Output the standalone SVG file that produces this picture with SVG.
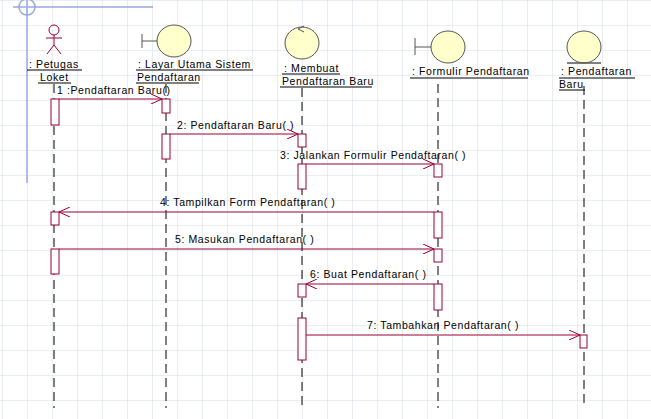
<svg xmlns="http://www.w3.org/2000/svg" width="651" height="419" viewBox="0 0 651 419">
<style>
text{font-family:"Liberation Sans",Arial,sans-serif;font-size:10.5px;fill:#000;letter-spacing:0.6px}
.ll{stroke:#000;stroke-width:1;stroke-dasharray:9,5}
.act{fill:#fff;stroke:#990033;stroke-width:1}
.msg{stroke:#990033;stroke-width:1;fill:none}
.ul{stroke:#000;stroke-width:1}
.ball{fill:#ffffcc;stroke:#555;stroke-width:1}
</style>
<defs>
<pattern id="g" width="25" height="25" patternUnits="userSpaceOnUse" x="2" y="0">
<path d="M0 0H25M0 0V25" stroke="#d6dde8" stroke-width="1" fill="none"/>
</pattern>
<marker id="a" markerWidth="12" markerHeight="10" refX="11" refY="5" orient="auto" markerUnits="userSpaceOnUse">
<path d="M0 0L11 5L0 10" fill="none" stroke="#990033" stroke-width="1"/>
</marker>
</defs>
<rect width="651" height="419" fill="#fff"/>
<rect width="651" height="419" fill="url(#g)"/>
<g stroke="#9aa8e0" stroke-width="1.5" fill="none">
<line x1="13" y1="7" x2="153" y2="7"/>
<line x1="27" y1="0" x2="27" y2="183"/>
<circle cx="27" cy="7" r="8"/>
</g>
<g id="petugas">
<g stroke="#990033" fill="none"><circle cx="54" cy="30" r="5"/><line x1="54" y1="35" x2="54" y2="45"/><line x1="46" y1="38" x2="62" y2="38"/><line x1="54" y1="45" x2="47" y2="54"/><line x1="54" y1="45" x2="61" y2="54"/></g>
<text x="29" y="68">: Petugas</text><line class="ul" x1="27" y1="70" x2="82" y2="70"/>
<text x="40" y="81">Loket</text><line class="ul" x1="38" y1="83" x2="71" y2="83"/>
<line class="ll" x1="54" y1="84" x2="54" y2="408"/>
</g>
<g id="layar">
<line x1="142" y1="34" x2="142" y2="48" stroke="#555"/><line x1="142" y1="41" x2="157" y2="41" stroke="#555"/>
<ellipse class="ball" cx="174" cy="41" rx="17" ry="16"/>
<text x="138" y="68">: Layar Utama Sistem</text><line class="ul" x1="136" y1="70" x2="253" y2="70"/>
<text x="137" y="81">Pendaftaran</text><line class="ul" x1="136" y1="83" x2="199" y2="83"/>
<line class="ll" x1="166" y1="84" x2="166" y2="408"/>
</g>
<g id="membuat">
<ellipse class="ball" cx="302" cy="43" rx="17" ry="16"/>
<path d="M304 26L298 29L304 32" stroke="#555" fill="none"/>
<text x="284" y="72">: Membuat</text><line class="ul" x1="282" y1="74" x2="340" y2="74"/>
<text x="282" y="85">Pendaftaran Baru</text><line class="ul" x1="280" y1="87" x2="372" y2="87"/>
<line class="ll" x1="302" y1="88" x2="302" y2="408"/>
</g>
<g id="formulir">
<line x1="415" y1="38" x2="415" y2="55" stroke="#555"/><line x1="415" y1="47" x2="431" y2="47" stroke="#555"/>
<ellipse class="ball" cx="448" cy="47" rx="17" ry="16"/>
<text x="412" y="75">: Formulir Pendaftaran</text><line class="ul" x1="410" y1="78" x2="528" y2="78"/>
<line class="ll" x1="438" y1="84" x2="438" y2="408"/>
</g>
<g id="pendaftaranbaru">
<ellipse class="ball" cx="584" cy="47" rx="17" ry="16"/>
<line x1="567" y1="63" x2="601" y2="63" stroke="#555" stroke-width="1.5"/>
<text x="561" y="75">: Pendaftaran</text><line class="ul" x1="559" y1="78" x2="635" y2="78"/>
<text x="559" y="88">Baru</text><line class="ul" x1="559" y1="90" x2="585" y2="90"/>
<line class="ll" x1="584" y1="86" x2="584" y2="408" stroke="#666" stroke-width="1.5"/>
</g>
<g id="activations">
<rect class="act" x="51" y="99" width="8" height="26"/>
<rect class="act" x="51" y="212" width="8" height="13"/>
<rect class="act" x="51" y="249" width="8" height="25"/>
<rect class="act" x="162" y="99" width="8" height="14"/>
<rect class="act" x="162" y="134" width="8" height="25"/>
<rect class="act" x="298" y="134" width="8" height="13"/>
<rect class="act" x="298" y="164" width="8" height="25"/>
<rect class="act" x="298" y="284" width="8" height="13"/>
<rect class="act" x="298" y="318" width="8" height="42"/>
<rect class="act" x="434" y="164" width="8" height="13"/>
<rect class="act" x="434" y="212" width="8" height="26"/>
<rect class="act" x="434" y="249" width="8" height="13"/>
<rect class="act" x="434" y="284" width="8" height="26"/>
<rect class="act" x="580" y="335" width="7" height="13"/>
</g>
<g id="connectors">
<line class="msg" x1="59" y1="99" x2="162" y2="99" marker-end="url(#a)"/>
<line class="msg" x1="170" y1="134" x2="298" y2="134" marker-end="url(#a)"/>
<line class="msg" x1="306" y1="164" x2="434" y2="164" marker-end="url(#a)"/>
<line class="msg" x1="434" y1="212" x2="59" y2="212" marker-end="url(#a)"/>
<line class="msg" x1="59" y1="249" x2="434" y2="249" marker-end="url(#a)"/>
<line class="msg" x1="434" y1="284" x2="306" y2="284" marker-end="url(#a)"/>
<line class="msg" x1="306" y1="335" x2="580" y2="335" marker-end="url(#a)"/>
</g>
<g id="labels">
<text x="57" y="94">1 :Pendaftaran Baru()</text>
<text x="177" y="129">2: Pendaftaran Baru( )</text>
<text x="280" y="159">3: Jalankan Formulir Pendaftaran( )</text>
<text x="160" y="206">4: Tampilkan Form Pendaftaran( )</text>
<text x="175" y="243">5: Masukan Pendaftaran( )</text>
<text x="310" y="278">6: Buat Pendaftaran( )</text>
<text x="367" y="329">7: Tambahkan Pendaftaran( )</text>
</g>
</svg>
